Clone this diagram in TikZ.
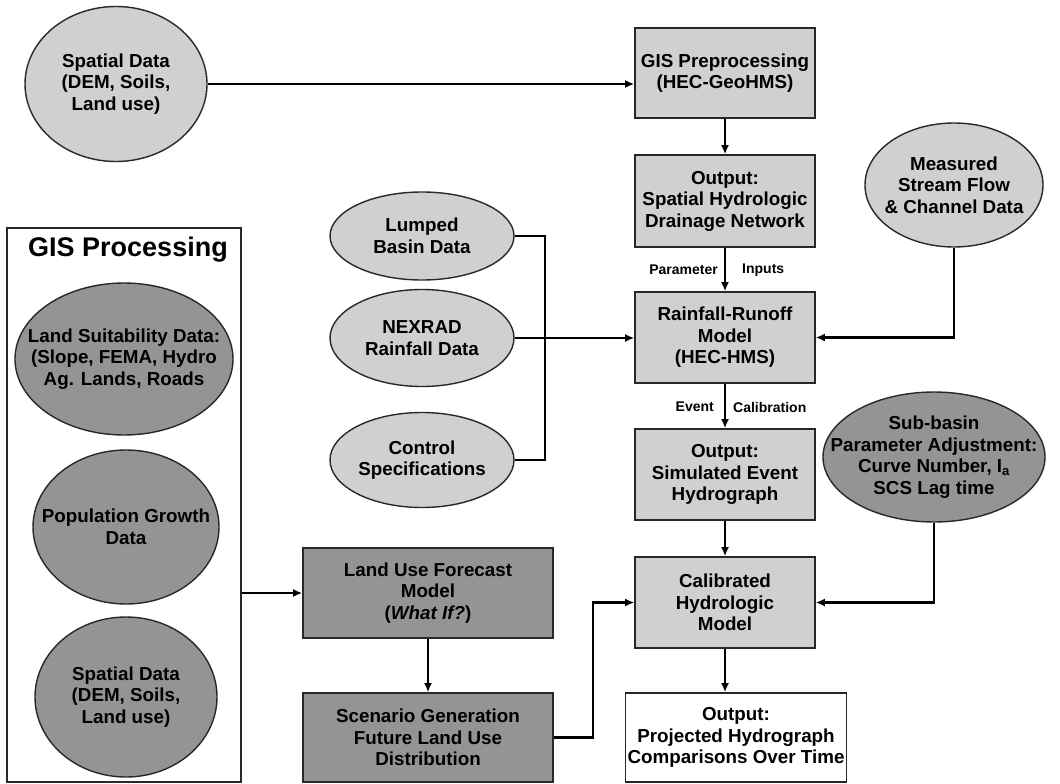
\documentclass[tikz,border=0pt]{standalone}
\usepackage{fontspec}
\setmainfont{Liberation Sans}
\usetikzlibrary{shapes.geometric,arrows.meta}
\definecolor{lightg}{RGB}{208,208,208}
\definecolor{darkg}{RGB}{148,148,148}
\definecolor{edgeg}{RGB}{40,40,40}
\begin{document}
\begin{tikzpicture}[x=1pt,y=-1pt,
  txt/.style={align=center,font=\bfseries\fontsize{18.8}{21.5}\selectfont,inner sep=0pt},
  lab/.style={font=\bfseries\fontsize{14}{16}\selectfont,inner sep=0pt},
  ellbase/.style={ellipse,draw=edgeg,line width=1.4pt,inner sep=0pt},
  ell/.style={ellbase,fill=lightg},
  dell/.style={ellbase,fill=darkg},
  boxbase/.style={rectangle,draw=edgeg,line width=1.6pt,align=center,font=\bfseries\fontsize{18.8}{21.5}\selectfont,inner sep=2pt},
  lbox/.style={boxbase,fill=lightg},
  dbox/.style={boxbase,fill=darkg},
  wbox/.style={boxbase,fill=white},
  conn/.style={line width=2.2pt,draw=black},
  arr/.style={conn,-{Latex[length=9pt,width=8pt]}}
]
\useasboundingbox (0,0) rectangle (1060,784);
\fill[white] (0,0) rectangle (1060,784);

% GIS processing frame
\node[draw=edgeg,line width=1.4pt,fill=white,minimum width=234,minimum height=554,inner sep=0pt] (gisproc) at (124,505) {};
\node[font=\bfseries\fontsize{27}{30}\selectfont,inner sep=0pt] (gistitle) at (128,250) {GIS Processing};

% ellipses
\node[ell,minimum width=182,minimum height=155] (sp1) at (116,84) {};
\node[txt] at (sp1) {Spatial Data\\(DEM, Soils,\\Land use)};

\node[dell,minimum width=218,minimum height=152] (ls) at (124,359) {};
\node[txt] at (ls) {Land Suitability Data:\\(Slope, FEMA, Hydro\\Ag. Lands, Roads};

\node[dell,minimum width=186,minimum height=154] (pop) at (126,527) {};
\node[txt] at (pop) {Population Growth\\Data};

\node[dell,minimum width=182,minimum height=160] (sp2) at (126,697) {};
\node[txt] at (sp2) {Spatial Data\\(DEM, Soils,\\Land use)};

\node[ell,minimum width=184,minimum height=88] (lump) at (422,236) {};
\node[txt] at (lump) {Lumped\\Basin Data};

\node[ell,minimum width=184,minimum height=97] (nex) at (422,338) {};
\node[txt] at (nex) {NEXRAD\\Rainfall Data};

\node[ell,minimum width=184,minimum height=95] (ctrl) at (422,460) {};
\node[txt] at (ctrl) {Control\\Specifications};

\node[ell,minimum width=178,minimum height=124] (meas) at (954,185) {};
\node[txt] at (meas) {Measured\\Stream Flow\\\& Channel Data};

\node[dell,minimum width=222,minimum height=130] (sub) at (934,457) {};
\node[txt] at (sub) {Sub-basin\\Parameter Adjustment:\\Curve Number, I\textsubscript{a}\\SCS Lag time};

% boxes
\node[lbox,minimum width=180,minimum height=90] (pre) at (725,73) {GIS Preprocessing\\(HEC-GeoHMS)};
\node[lbox,minimum width=180,minimum height=92] (outsp) at (725,201) {Output:\\Spatial Hydrologic\\Drainage Network};
\node[lbox,minimum width=180,minimum height=91] (rain) at (725,337.5) {Rainfall-Runoff\\Model\\(HEC-HMS)};
\node[lbox,minimum width=180,minimum height=91] (sim) at (725,474.5) {Output:\\Simulated Event\\Hydrograph};
\node[lbox,minimum width=180,minimum height=91] (cal) at (725,602.5) {Calibrated\\Hydrologic\\Model};
\node[wbox,minimum width=218,minimum height=89] (proj) at (736,737.5) {Output:\\Projected Hydrograph\\Comparisons Over Time};
\node[dbox,minimum width=250,minimum height=90] (luf) at (428,593) {Land Use Forecast\\Model\\(\textit{What If?})};
\node[dbox,minimum width=250,minimum height=89] (scen) at (428,737.5) {Scenario Generation\\Future Land Use\\Distribution};

% labels
\node[lab,anchor=east] (lpar) at (718,270) {Parameter};
\node[lab,anchor=west] (linp) at (742,270) {Inputs};
\node[lab,anchor=east] (lev) at (714,407) {Event};
\node[lab,anchor=west] (lcal) at (733,407) {Calibration};

% helper coordinates
\coordinate (brx) at (545,0);
\coordinate (jx) at (593,0);

% connectors
\draw[arr] (sp1.east) -- (sp1.east -| pre.west);
\draw[arr] (pre.south) -- (outsp.north);
\draw[arr] (outsp.south) -- (rain.north);
\draw[conn] (lump.east) -- (lump.east -| brx) |- (ctrl.east);
\draw[arr] (nex.east) -- (nex.east -| rain.west);
\draw[arr] (meas.south) |- (rain.east);
\draw[arr] (rain.south) -- (sim.north);
\draw[arr] (sim.south) -- (cal.north);
\draw[arr] (sub.south) |- (cal.east);
\draw[arr] (gisproc.east |- luf.west) -- (luf.west);
\draw[arr] (luf.south) -- (scen.north);
\draw[arr] (scen.east) -- (scen.east -| jx) |- (cal.west);
\draw[arr] (cal.south) -- (cal.south |- proj.north);
\end{tikzpicture}
\end{document}
